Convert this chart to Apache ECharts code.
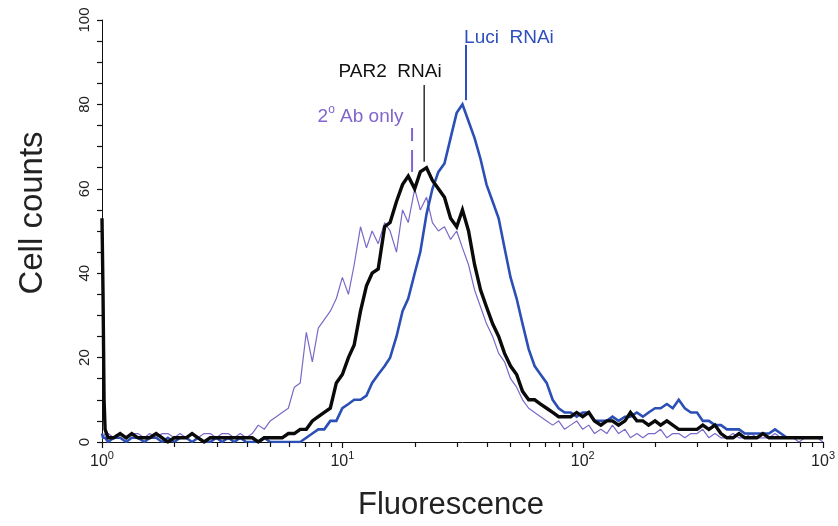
<!DOCTYPE html>
<html><head><meta charset="utf-8">
<script src="https://cdn.jsdelivr.net/npm/echarts@6/dist/echarts.min.js"></script>
<style>html,body{margin:0;padding:0;background:#fff}#c{width:838px;height:526px}</style>
</head><body><div id="c"></div>
<script>
// Fluorescence bins (x, log axis)
const fluor = [1, 1.01, 1.02, 1.03,
 1.06, 1.12, 1.19, 1.26, 1.33, 1.41, 1.5, 1.58, 1.68, 1.78, 1.88, 2, 2.11, 2.24, 2.37, 2.51, 2.66, 2.82, 2.99, 3.16,
 3.35, 3.55, 3.76, 3.98, 4.22, 4.47, 4.73, 5.01, 5.31, 5.62, 5.96, 6.31, 6.68, 7.08, 7.5, 7.94, 8.41, 8.91, 9.44, 10,
 10.6, 11.2, 11.9, 12.6, 13.3, 14.1, 15, 15.8, 16.8, 17.8, 18.8, 20, 21.1, 22.4, 23.7, 25.1, 26.6, 28.2, 29.9, 31.6,
 33.5, 35.5, 37.6, 39.8, 42.2, 44.7, 47.3, 50.1, 53.1, 56.2, 59.6, 63.1, 66.8, 70.8, 75, 79.4, 84.1, 89.1, 94.4, 100,
 106, 112, 119, 126, 133, 141, 150, 158, 168, 178, 188, 200, 211, 224, 237, 251, 266, 282, 299, 316,
 335, 355, 376, 398, 422, 447, 473, 501, 531, 562, 596, 631, 668, 708, 750, 794, 841, 891, 944, 1000];

// 2° Ab only (purple)
const abOnly = [2, 1, 1, 2,
 2,1,2,1,2,2,1,2,1,2, 2,1,2,1,2,1,2,2,1,2,
 2,1,2,1,2,4,3,5,6,7, 8,13,14,26,19,27,29,31,34,39,
 35,42,51,46,50,47,52,50,45,55, 52,60,55,58,52,50,51,48,50,46,
 42,36,32,28,25,21,19,15,13,10, 8,7,6,5,4,5,3,4,5,3,
 4,2,3,2,4,2,3,1,2,1, 2,2,3,1,2,2,1,2,2,3,
 1,2,1,1,2,1,1,2,1,1, 1,2,1,1,1,0,1,1,1,0];

// PAR2 RNAi (black)
const par2 = [53, 35, 10, 3,
 1,1,2,1,2,1,1,1,2,1, 0,1,1,1,2,1,0,1,1,1,
 1,1,1,1,1,0,1,1,1,1, 2,2,3,3,5,6,7,8,14,16,
 20,23,31,37,40,41,51,52,57,61, 63,60,64,65,62,60,58,53,51,55,
 50,42,36,32,28,25,21,18,16,12, 10,10,9,8,7,6,6,6,7,6,
 7,5,4,5,5,4,5,7,5,5, 4,5,4,5,4,3,3,3,3,4,
 3,4,2,1,1,2,1,1,1,2, 1,1,1,1,1,1,1,1,1,1];

// Luci RNAi (blue)
const luci = [2, 1, 1, 1,
 0,1,1,0,1,1,0,1,1,0, 1,0,1,1,0,1,0,0,1,0,
 1,0,1,0,0,0,1,0,0,0, 0,0,0,1,2,3,3,5,5,8,
 9,10,10,11,14,16,18,20,25,31, 34,40,45,54,60,64,66,72,78,80,
 76,72,67,61,57,53,46,39,34,28, 22,18,16,14,10,8,7,7,6,7,
 7,5,5,5,6,5,6,6,7,6, 7,8,8,9,8,10,8,7,7,5,
 5,4,4,3,3,3,2,2,2,2, 2,3,2,1,1,1,1,1,1,1];

const xTicks = [1,2,3,4,5,6,7,8,9,10,20,30,40,50,60,70,80,90,100,200,300,400,500,600,700,800,900,1000];
const yLabels = [0, 20, 40, 60, 80, 100];

// Annotations (data coordinates)
const notes = [
  {text:'{a|Luci  RNAi}', tx:32.1, ty:96.2, align:'left', lx:32.7, segs:[[81,94.1]], color:'#2f4fbf', lw:2},
  {text:'{a|PAR2  RNAi}', tx:15.8, ty:88.2, align:'center', lx:21.9, segs:[[66.4,84.6]], color:'#111111', lw:1.3},
  {text:'{a|2}{s|o}{a| Ab only}', tx:11.9, ty:77.5, align:'center', lx:19.5, segs:[[71.3,74.4],[64,69.2]], color:'#8066cc', lw:2}
];

const FONT = 'Liberation Sans, Arial, sans-serif';
const pair = arr => fluor.map((x, i) => [x, arr[i]]);

const chart = echarts.init(document.getElementById('c'), null, {renderer:'canvas'});
chart.setOption({
  animation:false,
  backgroundColor:'#ffffff',
  grid:{left:102, right:13, top:20, bottom:84, containLabel:false},
  xAxis:{
    type:'log', logBase:10, min:1, max:1000,
    axisLine:{show:true, lineStyle:{color:'#111', width:1}},
    axisTick:{show:false},
    axisLabel:{margin:8, color:'#222',
      formatter: v => '{b|10}{s|' + Math.round(Math.log10(v)) + '}',
      rich:{b:{fontSize:16, fontFamily:FONT, color:'#222', verticalAlign:'bottom', lineHeight:20},
            s:{fontSize:11, fontFamily:FONT, color:'#222', verticalAlign:'top', lineHeight:12}}},
    splitLine:{show:false}
  },
  yAxis:{
    type:'value', min:0, max:100, interval:5,
    axisLine:{show:true, lineStyle:{color:'#111', width:1}},
    axisTick:{show:true, length:5, lineStyle:{color:'#111', width:1.2}},
    axisLabel:{rotate:90, margin:10, fontSize:15, fontFamily:FONT, color:'#222',
      formatter: v => yLabels.indexOf(v) >= 0 ? String(v) : ''},
    splitLine:{show:false}
  },
  series:[
    {name:'2° Ab only', type:'line', showSymbol:false, data:pair(abOnly), z:2,
     lineStyle:{color:'#7b68c8', width:1.2}, itemStyle:{color:'#7b68c8'}},
    {name:'Luci RNAi', type:'line', showSymbol:false, data:pair(luci), z:3,
     lineStyle:{color:'#2b4fb5', width:2.6, join:'miter'}, itemStyle:{color:'#2b4fb5'}},
    {name:'PAR2 RNAi', type:'line', showSymbol:false, data:pair(par2), z:4,
     lineStyle:{color:'#0a0a0a', width:3.4, join:'miter'}, itemStyle:{color:'#0a0a0a'}}
  ]
});

const px = (x, y) => chart.convertToPixel({xAxisIndex:0, yAxisIndex:0}, [x, y]);
const graphics = [
  {type:'text', x:33, y:213, rotation:Math.PI/2,
   style:{text:'Cell counts', fontSize:33, fontFamily:FONT, fill:'#222', align:'center', verticalAlign:'middle'}},
  {type:'text', x:451, y:505,
   style:{text:'Fluorescence', fontSize:31, fontFamily:FONT, fill:'#222', align:'center', verticalAlign:'middle'}}
];
// log-axis tick marks at 1..9 × 10^k
xTicks.forEach(v => {
  const p = px(v, 0);
  const len = [1,10,100,1000].indexOf(v) >= 0 ? 6 : 5;
  graphics.push({type:'line', z:5, shape:{x1:Math.round(p[0])+0.5, y1:p[1], x2:Math.round(p[0])+0.5, y2:p[1]+len},
    style:{stroke:'#111', lineWidth:1.2}});
});
notes.forEach(n => {
  const t = px(n.tx, n.ty);
  graphics.push({type:'text', x:t[0], y:t[1], z:10,
    style:{text:n.text, align:n.align, verticalAlign:'middle',
      rich:{a:{fontSize:19, fontFamily:FONT, fill:n.color, verticalAlign:'bottom', lineHeight:22},
            s:{fontSize:12, fontFamily:FONT, fill:n.color, verticalAlign:'top', lineHeight:13}}}});
  n.segs.forEach(s => {
    const p1 = px(n.lx, s[0]), p2 = px(n.lx, s[1]);
    graphics.push({type:'line', z:10, shape:{x1:p1[0], y1:p1[1], x2:p2[0], y2:p2[1]},
      style:{stroke:n.color, lineWidth:n.lw}});
  });
});
chart.setOption({graphic:graphics});
</script>
</body></html>
